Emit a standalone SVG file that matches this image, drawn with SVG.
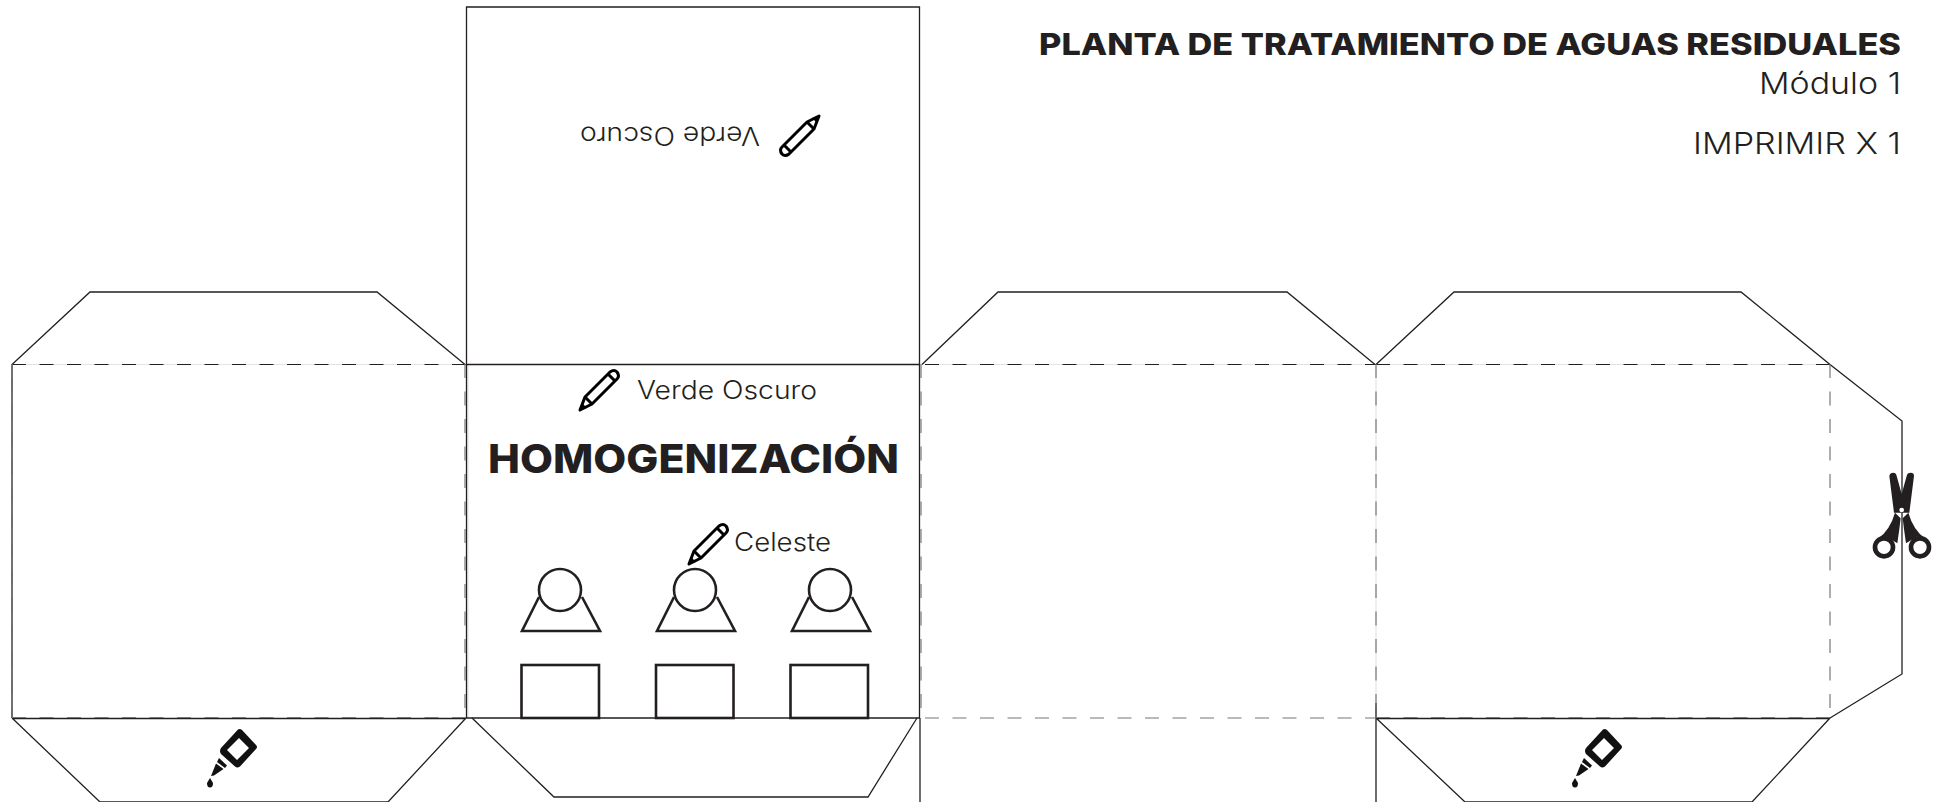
<svg xmlns="http://www.w3.org/2000/svg" width="1942" height="802" viewBox="0 0 1942 802">
<style>
text{font-family:Inter,"Liberation Sans",sans-serif;fill:#231f20}
.l{font-weight:300}
.b{font-weight:800}
.cut{fill:none;stroke:#231f20;stroke-width:1.3}
.fold{fill:none;stroke:#231f20;stroke-width:1.2;stroke-dasharray:14 13.5}
.foldv{fill:none;stroke:#777;stroke-width:1.2;stroke-dasharray:14 13.5}
.faint{fill:none;stroke:#e4e4e4;stroke-width:1.2}
.ic{fill:none;stroke:#231f20;stroke-width:2.6}
.pen{fill:none;stroke:#000;stroke-width:3;stroke-linejoin:round}
</style>
<defs>
<g id="pencil"><path class="pen" d="M1 37L6 24L31 -1Q35 -4 38 -1Q41 3 38 6L13 31Z"/><path class="pen" d="M6 24L13 31M29 1L36 8" stroke-width="2"/><path d="M1 37L3 30L8 35Z" fill="#000"/></g>
<g id="glue"><path fill="#111" fill-rule="evenodd" d="M30 0.500Q32 -0.500 34 1L48 16Q50 18 48 20L32 37.500Q29 39.500 27 37.500L13 25Q11 22 13 19ZM31 9L19 21L29 31L41 19Z"/><path fill="#111" d="M11 29L19 36.500L17 39L9 33ZM8 34.500L15.500 40L6 46.500L3 47ZM2 49L5 54Q5 58.500 2 58.500Q-1 58.500 -1 54Z"/></g>
</defs>
<g id="connectors">
<path class="faint" d="M12 364.500H466M925 364.500H1830M468 364V718M1376 364V718"/>
<path class="cut" d="M466.500 364.500V7H919.500V364.500"/>
<path class="cut" d="M466 364.500H920M466 718H920"/>
<path class="cut" d="M12 718V364.500L90 292H377L465 364.500"/>
<path class="cut" d="M922 364.500L998 292H1287L1375 364.500"/>
<path class="cut" d="M1376 364.500L1454 292H1741L1830 364.500L1902 421V674L1830 718"/>
<path class="cut" d="M12 718L100 802H388L466 718M12 718.500H466"/>
<path class="cut" d="M472 718L554 797H868L917 718"/>
<path class="cut" d="M1376 718L1465 802H1752L1830 718M1376 718.500H1830"/>
<path class="cut" d="M919.500 364V718M920 718V802M1376 703V802M466.500 364V718"/>
<path class="fold" d="M12 364.500H466M925 364.500H1376M1376 364.500H1830"/>
<path class="foldv" d="M925 718H1376M1376 717.500H1830M12 717.500H466"/>
<path class="foldv" d="M1376 364V718M1830 364V718M465 364V718M921 364V718M12 364V718"/>
</g>
<g id="title"><text class="b" x="1901" y="55" font-size="30" text-anchor="end" textLength="862" lengthAdjust="spacingAndGlyphs">PLANTA DE TRATAMIENTO DE AGUAS RESIDUALES</text>
<text class="l" x="1901" y="94" font-size="30" text-anchor="end" textLength="142" lengthAdjust="spacingAndGlyphs">Módulo 1</text>
<text class="l" x="1901" y="154" font-size="30" text-anchor="end" textLength="208" lengthAdjust="spacingAndGlyphs">IMPRIMIR X 1</text></g>
<g id="top-flap"><text class="l" transform="rotate(180 760 127)" x="760" y="127" font-size="25" textLength="180" lengthAdjust="spacingAndGlyphs">Verde Oscuro</text><use href="#pencil" transform="translate(820 153) rotate(180)"/></g>
<g id="center-panel">
<use href="#pencil" x="579" y="373"/>
<text class="l" x="637" y="399" font-size="25" textLength="180" lengthAdjust="spacingAndGlyphs">Verde Oscuro</text>
<text class="b" x="488" y="473" font-size="40" textLength="411" lengthAdjust="spacingAndGlyphs">HOMOGENIZACIÓN</text>
<use href="#pencil" x="688" y="527"/>
<text class="l" x="734" y="551" font-size="25" textLength="97" lengthAdjust="spacingAndGlyphs">Celeste</text>
</g>
<g id="person-1"><path class="ic" d="M539 597L522 631H600L582 597"/><circle class="ic" cx="560" cy="590" r="21"/><rect class="ic" x="521.500" y="665" width="77.500" height="53"/></g>
<g id="person-2"><path class="ic" d="M674 597L657 631H735L717 597"/><circle class="ic" cx="695" cy="590" r="21"/><rect class="ic" x="656" y="665" width="77.500" height="53"/></g>
<g id="person-3"><path class="ic" d="M809 597L792 631H870L852 597"/><circle class="ic" cx="830" cy="590" r="21"/><rect class="ic" x="790.500" y="665" width="77.500" height="53"/></g>
<g id="glue-left"><use href="#glue" x="208" y="729"/></g>
<g id="glue-right"><use href="#glue" x="1573" y="729"/></g>
<g id="scissors" transform="translate(1780 340) scale(.33333)"><path fill="#231f20" d="M328 408Q330 398 340 398Q348 398 350 408L365 462L380 408Q382 398 392 398Q402 398 402 408L388 518L342 518ZM345 518L362 535Q358 570 352 610L320 590L295 595Q330 570 345 518ZM385 518L368 535Q372 570 378 610L410 590L435 595Q400 570 385 518Z"/><circle cx="312" cy="622" r="27" fill="none" stroke="#231f20" stroke-width="14"/><circle cx="420" cy="622" r="27" fill="none" stroke="#231f20" stroke-width="14"/><circle cx="365" cy="510" r="7" fill="#fff"/></g>
</svg>
